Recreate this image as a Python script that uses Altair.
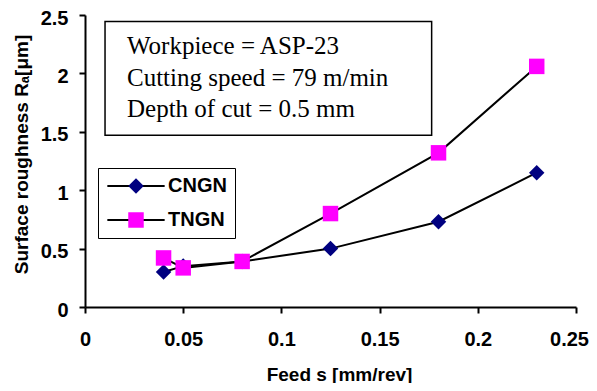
import altair as alt
import pandas as pd

feed = [0.04, 0.05, 0.08, 0.125, 0.18, 0.23]
cngn = [0.30, 0.35, 0.39, 0.50, 0.73, 1.15]
tngn = [0.42, 0.335, 0.39, 0.80, 1.32, 2.06]
series_names = ["CNGN", "TNGN"]
marker_colors = ["#000080", "#FF00FF"]
marker_shapes = ["diamond", "square"]
info_lines = ["Workpiece = ASP-23", "Cutting speed = 79 m/min", "Depth of cut = 0.5 mm"]

rows = []
for name, vals in zip(series_names, [cngn, tngn]):
    for f, v in zip(feed, vals):
        rows.append({"feed": f, "ra": v, "series": name, "series_l": name})
df = pd.DataFrame(rows)

FONT = "Liberation Sans"
W, H = 491, 292

xscale = alt.Scale(domain=[0, 0.25], nice=False, zero=False)
yscale = alt.Scale(domain=[0, 2.5], nice=False)
xenc = alt.X("feed:Q", scale=xscale,
             axis=alt.Axis(values=[0, 0.05, 0.1, 0.15, 0.2, 0.25], format="~g",
                           title="Feed s [mm/rev]", titleX=254, titleY=73,
                           titleBaseline="alphabetic", labelPadding=16, labelFlush=False,
                           labelOffset={"condition": {"test": "datum.value > 0.24", "value": -7},
                                        "value": 0}))
yenc = alt.Y("ra:Q", scale=yscale,
             axis=alt.Axis(values=[0, 0.5, 1, 1.5, 2, 2.5], format="~g",
                           title="Surface roughness R\u2090[\u03bcm]", titleX=-64, titleY=139,
                           titleBaseline="middle", titleAngle=270, labelPadding=11,
                           labelOffset=3))

legend_common = dict(orient="none", legendX=13, legendY=153, padding=8, title=None,
                     symbolSize=240, symbolOffset=20, labelOffset=22,
                     labelFont=FONT, labelFontSize=20, labelFontWeight="bold",
                     labelColor="black", rowPadding=14)

lines = alt.Chart(df).mark_line(strokeWidth=2).encode(
    x=xenc, y=yenc,
    color=alt.Color("series_l:N", scale=alt.Scale(range=["black", "black"]),
                    legend=alt.Legend(symbolType="M-3.7,0H3.7", symbolStrokeWidth=2,
                                      symbolStrokeColor="black",
                                      strokeColor="black", fillColor="white", zindex=1,
                                      **legend_common)),
    detail="series:N",
)

points = alt.Chart(df).mark_point(filled=True, size=240, opacity=1, strokeWidth=0).encode(
    x=xenc, y=yenc,
    fill=alt.Fill("series:N", scale=alt.Scale(range=marker_colors),
                  legend=alt.Legend(labelOpacity=0, symbolStrokeWidth=0, zindex=2, **legend_common)),
    shape=alt.Shape("series:N", scale=alt.Scale(range=marker_shapes),
                    legend=alt.Legend(labelOpacity=0, symbolStrokeWidth=0, zindex=2, **legend_common)),
)

one = pd.DataFrame({"k": [0]})
box = alt.Chart(one).mark_rect(fill="white", stroke="black", strokeWidth=1.5).encode(
    x=alt.X(datum=0.0102, scale=xscale), x2=alt.X2(datum=0.1765),
    y=alt.Y(datum=2.445, scale=yscale), y2=alt.Y2(datum=1.47))
txt = alt.Chart(one).mark_text(text=info_lines, font="Liberation Serif", fontSize=25,
                               align="left", baseline="alphabetic", lineHeight=31.5,
                               color="black").encode(x=alt.value(42), y=alt.value(39))

chart = alt.layer(box, txt, lines, points).properties(
    width=W, height=H,
    autosize=alt.AutoSizeParams(type="none"),
    padding={"left": 77, "top": 7, "right": 13, "bottom": 76},
).configure_view(stroke=None).configure_axis(
    grid=False, domainColor="black", domainWidth=2, tickColor="black", tickWidth=2,
    tickSize=6, labelFont=FONT, labelFontSize=20, labelFontWeight="bold", labelColor="black",
    titleFont=FONT, titleFontSize=19, titleFontWeight="bold", titleColor="black",
)

chart.save("out.html", embed_options={"renderer": "svg", "actions": False})
